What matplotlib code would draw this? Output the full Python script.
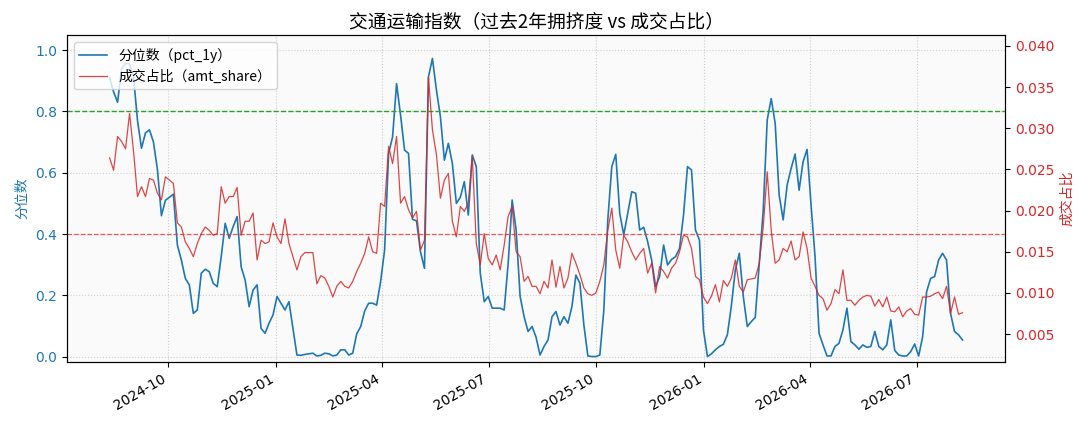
import pandas as pd
import matplotlib.pyplot as plt
import matplotlib.dates as mdates

# ticks stay in DejaVu, Chinese text gets the CJK family
zh = ['Noto Sans CJK SC', 'DejaVu Sans']
plt.rcParams['axes.unicode_minus'] = False

# sample span (values at an even step)
start_date = '2024-08-12'
end_date = '2026-08-09'

# 分位数 pct_1y
pct_1y = [
    0.91, 0.864, 0.83, 0.94, 0.957, 0.955, 0.913, 0.77, 0.68, 0.73, 0.74, 0.70, 0.61, 0.46, 0.51,
    0.52, 0.53, 0.364, 0.315, 0.255, 0.234, 0.141, 0.152, 0.272, 0.285, 0.277, 0.239, 0.228, 0.326,
    0.435, 0.386, 0.424, 0.457, 0.293, 0.25, 0.163, 0.217, 0.234, 0.092, 0.076, 0.109, 0.136, 0.196, 0.174,
    0.152, 0.179, 0.092, 0.005, 0.004, 0.007, 0.009, 0.011, 0.002, 0.004, 0.011, 0.009, 0.002, 0.005, 0.022, 0.022,
    0.005, 0.011, 0.074, 0.098, 0.149, 0.174, 0.174, 0.168, 0.245, 0.348, 0.663, 0.717, 0.891, 0.788, 0.674,
    0.663, 0.448, 0.443, 0.342, 0.288, 0.913, 0.973, 0.870, 0.783, 0.641, 0.696, 0.630, 0.50, 0.52, 0.571, 0.462,
    0.658, 0.62, 0.272, 0.179, 0.196, 0.158, 0.158, 0.158, 0.152, 0.304, 0.511, 0.413, 0.196, 0.13, 0.082,
    0.098, 0.063, 0.005, 0.033, 0.054, 0.13, 0.147, 0.103, 0.13, 0.109, 0.163, 0.266, 0.239, 0.103, 0.002, 0.0,
    0.0, 0.005, 0.15, 0.446, 0.62, 0.66, 0.467, 0.397, 0.467, 0.538, 0.533, 0.413, 0.422, 0.375, 0.315,
    0.228, 0.261, 0.364, 0.299, 0.317, 0.326, 0.353, 0.462, 0.62, 0.609, 0.413, 0.38, 0.087, 0.0, 0.009, 0.022,
    0.033, 0.04, 0.071, 0.165, 0.283, 0.337, 0.196, 0.098, 0.114, 0.128, 0.304, 0.478, 0.772, 0.842, 0.761,
    0.527, 0.446, 0.56, 0.614, 0.661, 0.543, 0.636, 0.676, 0.495, 0.326, 0.076, 0.038, 0.002, 0.002, 0.033, 0.043,
    0.087, 0.158, 0.049, 0.038, 0.024, 0.038, 0.03, 0.033, 0.082, 0.033, 0.022, 0.038, 0.12, 0.02, 0.005,
    0.002, 0.002, 0.016, 0.041, 0.002, 0.065, 0.212, 0.255, 0.261, 0.315, 0.337, 0.315, 0.141, 0.082, 0.071, 0.054,
]

# 成交占比 amt_share
amt_share = [
    0.0264, 0.0249, 0.0290, 0.0284, 0.0275, 0.0318, 0.0272, 0.0217, 0.0229, 0.0217, 0.0239, 0.0237, 0.0221, 0.0213, 0.0241,
    0.0237, 0.0233, 0.0185, 0.0180, 0.0162, 0.0154, 0.0144, 0.0160, 0.0172, 0.0180, 0.0176, 0.0170, 0.0172, 0.0229,
    0.0209, 0.0217, 0.0217, 0.0228, 0.0170, 0.0187, 0.0187, 0.0197, 0.0140, 0.0164, 0.0160, 0.0162, 0.0185, 0.0168, 0.0160,
    0.0190, 0.0160, 0.0144, 0.0128, 0.0144, 0.0149, 0.0149, 0.0149, 0.0111, 0.0121, 0.0118, 0.0108, 0.0095, 0.0108, 0.0114, 0.0108,
    0.0106, 0.0114, 0.0126, 0.0136, 0.0148, 0.0168, 0.0150, 0.0148, 0.0209, 0.0205, 0.0278, 0.0257, 0.0290, 0.0209, 0.0217,
    0.0201, 0.0191, 0.0199, 0.0152, 0.0164, 0.0362, 0.0298, 0.0268, 0.0215, 0.0237, 0.0245, 0.0187, 0.0168, 0.0205, 0.0199, 0.0209,
    0.0266, 0.0160, 0.0134, 0.0172, 0.0142, 0.0134, 0.0146, 0.0128, 0.0158, 0.0193, 0.0205, 0.0150, 0.0144, 0.0114, 0.0120,
    0.0108, 0.0108, 0.0099, 0.0114, 0.0106, 0.0140, 0.0107, 0.0132, 0.0106, 0.0118, 0.0148, 0.0136, 0.0122, 0.0106, 0.0099, 0.0097,
    0.0100, 0.0114, 0.0134, 0.0176, 0.0203, 0.0152, 0.0130, 0.0170, 0.0162, 0.0150, 0.0140, 0.0148, 0.0154, 0.0124, 0.0136,
    0.0100, 0.0132, 0.0126, 0.0118, 0.0130, 0.0136, 0.0150, 0.0170, 0.0168, 0.0154, 0.0120, 0.0116, 0.0095, 0.0087, 0.0096, 0.0110,
    0.0089, 0.0115, 0.0108, 0.0118, 0.0140, 0.0108, 0.0101, 0.0116, 0.0117, 0.0118, 0.0136, 0.0180, 0.0247, 0.0176, 0.0136,
    0.0140, 0.0154, 0.0150, 0.0163, 0.0140, 0.0144, 0.0174, 0.0154, 0.0118, 0.0108, 0.0097, 0.0093, 0.0079, 0.0087, 0.0104, 0.0099,
    0.0128, 0.0091, 0.0091, 0.0085, 0.0091, 0.0095, 0.0097, 0.0096, 0.0084, 0.0092, 0.0083, 0.0095, 0.0078, 0.0077, 0.0083,
    0.0071, 0.0078, 0.0081, 0.0074, 0.0073, 0.0095, 0.0095, 0.0096, 0.0099, 0.0101, 0.0093, 0.0108, 0.0075, 0.0095, 0.0074, 0.0076,
]

hot_level = 0.8
cold_level = 0.4

dates = pd.date_range(start_date, end_date, periods=len(pct_1y))

fig, ax = plt.subplots(figsize=(10.89, 4.29), dpi=100)
fig.subplots_adjust(left=0.0615, right=0.923, top=0.918, bottom=0.156)
ax.set_facecolor('#fafafa')

l1, = ax.plot(dates, pct_1y, color='tab:blue', lw=1.2, label='分位数（pct_1y）')
ax.axhline(hot_level, color='#2ca02c', ls='--', lw=1.0, zorder=3)
ax.axhline(cold_level, color='#f03c3c', ls='--', lw=0.9, alpha=0.85, zorder=3)
ax.set_ylim(-0.018, 1.049)
ax.set_ylabel('分位数', color='tab:blue', family=zh)
ax.tick_params(axis='y', labelcolor='tab:blue')
ax.grid(True, ls=':', color='gray', alpha=0.35)

ax2 = ax.twinx()
l2, = ax2.plot(dates, amt_share, color='tab:red', lw=0.9, alpha=0.85, label='成交占比（amt_share）')
ax2.set_ylim(0.0016, 0.0413)
ax2.set_ylabel('成交占比', color='tab:red', family=zh)
ax2.tick_params(axis='y', labelcolor='tab:red')

ax2.legend([l1, l2], [l1.get_label(), l2.get_label()], loc='upper left',
           prop={'family': zh, 'size': 10})
ax.set_title('交通运输指数（过去2年拥挤度 vs 成交占比）', fontsize=13.5, family=zh)

ax.xaxis.set_major_locator(mdates.MonthLocator(bymonth=[1, 4, 7, 10]))
ax.xaxis.set_major_formatter(mdates.DateFormatter('%Y-%m'))
plt.setp(ax.get_xticklabels(), rotation=30, ha='right')

plt.savefig('out.png')
